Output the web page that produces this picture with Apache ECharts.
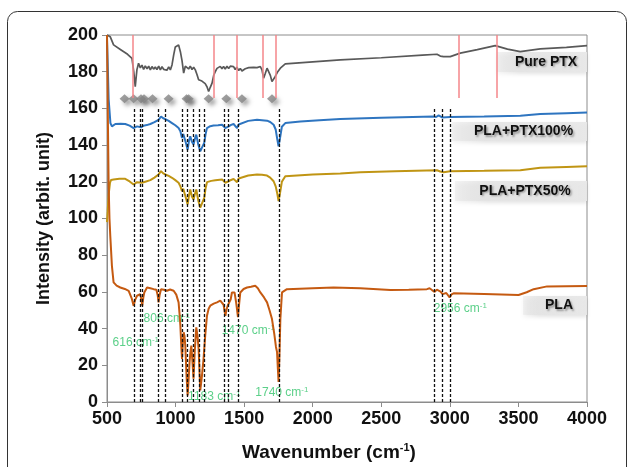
<!DOCTYPE html>
<html>
<head>
<meta charset="utf-8">
<script src="https://cdn.jsdelivr.net/npm/echarts@6/dist/echarts.min.js"></script>
<style>
  html, body { margin: 0; padding: 0; background: #fff; }
  #chart { width: 629px; height: 467px; }
</style>
</head>
<body>
<div id="chart"></div>
<script>
// spectra: [wavenumber, intensity]
const ptxData = [
  [500, 200], [524, 199], [548, 194.6], [600, 192], [650, 189.5], [682, 187.3], [695, 180], [706, 171.9],
  [718, 181], [730, 184.6], [743, 182.1], [755, 183.6], [767, 181.2], [779, 183.2], [792, 181.6], [804, 183],
  [816, 181], [828, 182.8], [840, 181.4], [852, 182.6], [864, 181.2], [877, 183], [889, 181], [901, 182.7],
  [913, 181.3], [925, 182.1], [937, 180.8], [950, 182.6], [962, 181], [974, 183.7], [986, 189], [998, 193.5],
  [1010, 192.5], [1022, 194.6], [1035, 190.9], [1047, 186], [1059, 179.2], [1071, 183], [1083, 183.7],
  [1095, 181.5], [1107, 183], [1120, 181.2], [1132, 182.4], [1144, 181], [1156, 178.5], [1168, 175.6],
  [1180, 176.2], [1192, 174.9], [1204, 174.6], [1216, 173.5], [1229, 171.8], [1241, 169.2], [1253, 171.5],
  [1266, 173.8], [1278, 178], [1290, 180.1], [1302, 181.8], [1314, 181], [1326, 182.9], [1338, 181.6],
  [1350, 182.8], [1362, 181.5], [1375, 183], [1387, 181.8], [1399, 183], [1411, 182], [1423, 182.8],
  [1435, 181.2], [1447, 182.5], [1460, 180.6], [1472, 181.8], [1484, 180.4], [1496, 180.1], [1508, 181.6],
  [1520, 180.8], [1533, 182.2], [1545, 181.9], [1570, 182.4], [1594, 182.2], [1618, 182.8], [1630, 181],
  [1642, 176.5], [1654, 179], [1667, 181.9], [1679, 181.5], [1691, 178], [1703, 174.6], [1715, 175.5],
  [1727, 177.4], [1745, 180], [1764, 181.9], [1800, 184.3], [2000, 185.4], [2201, 186.4], [2500, 187.6],
  [2800, 189], [2906, 189.5], [2930, 188.5], [2954, 188.2], [3003, 188.2], [3076, 190.1], [3200, 192],
  [3331, 194.2], [3420, 192.3], [3513, 190.9], [3659, 192.4], [3850, 193.3], [4000, 194.2]
];
const ptx100Data = [
  [500, 198], [505, 185], [512, 165], [525, 152], [536, 150.2], [561, 151.5], [600, 151.6], [633, 151.5],
  [665, 150.6], [694, 149.3], [719, 150.2], [748, 149.7], [767, 150.6], [790, 150.9], [816, 151.5],
  [846, 152.5], [876, 153.8], [894, 155.6], [910, 154.6], [925, 154.2], [950, 153.2], [974, 152],
  [998, 150.8], [1022, 149.3], [1035, 147.6], [1047, 143.9], [1056, 146.1], [1064, 145.7], [1076, 141],
  [1088, 137.5], [1098, 142.5], [1107, 144.8], [1119, 141.8], [1131, 140.3], [1141, 143.5], [1151, 145.7],
  [1165, 140.5], [1180, 136.6], [1195, 139], [1209, 141.2], [1219, 146], [1229, 149.3], [1253, 150.3],
  [1277, 150.7], [1310, 150.8], [1339, 151.1], [1350, 150.6], [1363, 149.3], [1375, 150.2], [1387, 150.2],
  [1405, 151], [1423, 151.5], [1436, 150.8], [1448, 149.3], [1460, 151.2], [1472, 152], [1530, 153.2],
  [1594, 153.8], [1630, 153.6], [1667, 153.3], [1690, 152.6], [1715, 151.1], [1730, 148.5], [1742, 143],
  [1751, 139.3], [1762, 144], [1775, 150], [1800, 152], [1910, 152.9], [2050, 153.6], [2201, 154.2],
  [2500, 154.9], [2882, 155.6], [2900, 155.3], [2918, 156.2], [2930, 155.5], [2943, 155.1], [3003, 155.3],
  [3250, 155.6], [3514, 156], [3659, 156.9], [3850, 157.4], [4000, 157.8]
];
const ptx50Data = [
  [500, 98], [505, 104], [512, 113], [522, 119.5], [530, 121], [548, 121.3], [590, 121.6], [633, 121.6],
  [665, 120.2], [694, 118.5], [719, 119.8], [755, 119.5], [785, 120.2], [816, 120.9], [846, 122.3],
  [876, 124], [894, 125.8], [910, 124.6], [925, 124], [950, 123.2], [974, 122.2], [998, 120.9],
  [1022, 119.5], [1035, 117.5], [1047, 114.9], [1056, 116.2], [1064, 115.8], [1076, 111], [1088, 107.7],
  [1098, 112.6], [1107, 115.8], [1119, 112], [1131, 110.4], [1141, 113.5], [1151, 115.8], [1165, 110],
  [1180, 105.9], [1195, 108.7], [1209, 111.3], [1219, 116.5], [1229, 119.8], [1260, 120.5], [1290, 120.9],
  [1339, 121.3], [1350, 120.8], [1363, 119.5], [1375, 120.4], [1387, 120.3], [1405, 121], [1423, 121.6],
  [1436, 121], [1448, 119.8], [1460, 121.8], [1472, 122.7], [1530, 123.4], [1594, 124], [1630, 123.8],
  [1667, 123.4], [1690, 122.3], [1715, 120.3], [1730, 117.5], [1742, 113.5], [1751, 109.5], [1762, 114],
  [1775, 120], [1800, 123], [2000, 124], [2201, 124.5], [2347, 125.2], [2600, 125.7], [2906, 126.3],
  [2930, 125.6], [2954, 125.2], [3003, 125.8], [3250, 126], [3514, 126.3], [3659, 127.6], [3850, 128.1],
  [4000, 128.5]
];
const plaData = [
  [500, 200], [503, 180], [507, 150], [512, 118], [518, 100], [524, 90.5], [536, 74], [548, 65.2],
  [570, 63.4], [597, 62.4], [630, 61.6], [658, 60.6], [680, 56.5], [694, 52.5], [706, 55.8], [719, 57.9],
  [743, 58.8], [750, 56], [757, 52.5], [765, 57], [772, 59.7], [792, 62.4], [816, 62], [840, 61.5],
  [860, 61.2], [870, 58], [876, 54.3], [884, 58.5], [894, 61.5], [915, 61.2], [937, 60.6], [960, 61.3],
  [986, 60.6], [1005, 58.5], [1022, 54.3], [1029, 48], [1035, 41.6], [1042, 30], [1047, 23.5], [1053, 32],
  [1059, 38], [1065, 36], [1071, 30.7], [1080, 14], [1088, 3.6], [1095, 12], [1102, 21.7], [1108, 27],
  [1115, 30.7], [1123, 22], [1131, 12.7], [1140, 28], [1151, 40.7], [1160, 36], [1168, 28.9], [1174, 18],
  [1180, 6.3], [1192, 14], [1204, 23.5], [1216, 36], [1229, 47], [1241, 50.8], [1253, 52.5], [1278, 53.6],
  [1302, 54.3], [1326, 55.2], [1339, 56.1], [1350, 53], [1363, 47], [1372, 50.5], [1380, 52.5],
  [1387, 52.8], [1394, 51.6], [1402, 56], [1411, 59.7], [1430, 59.7], [1442, 54], [1455, 46.2],
  [1463, 53], [1472, 59.7], [1496, 61.6], [1521, 62.4], [1550, 62.8], [1581, 63.3], [1600, 62],
  [1618, 59.7], [1645, 57], [1667, 54.3], [1685, 50], [1703, 45.2], [1720, 37], [1732, 30], [1740, 27.2],
  [1746, 18], [1751, 10.9], [1757, 24], [1764, 45], [1776, 59.7], [1812, 61.5], [2000, 62], [2152, 62.4],
  [2347, 62], [2566, 61], [2700, 61.2], [2833, 61.5], [2852, 62], [2870, 61], [2889, 60], [2905, 61.2],
  [2918, 61.5], [2932, 60.2], [2947, 58.8], [2960, 59.5], [2974, 59.4], [2987, 58.5], [2998, 57],
  [3012, 58.6], [3027, 59.2], [3250, 58.8], [3501, 58.3], [3560, 59.8], [3611, 61.5], [3709, 63],
  [3850, 63.1], [4000, 63.2]
];

const xTicks = { min: 500, max: 4000, interval: 500 };
const yTicks = { min: 0, max: 200, interval: 20 };

// dashed black marker lines, red PTX marker lines, grey diamonds
const dashedPeaks = [697, 741, 757, 876, 925, 1047, 1088, 1131, 1175, 1212, 1358, 1387, 1455, 1754, 2889, 2947, 3001];
const dashedTop = 160.5;
const redPeaks = [690, 1275, 1443, 1637, 1732, 3067, 3339];
const redBottom = 165.6;
const diamondX = [628, 694, 748, 770, 832, 949, 1080, 1095, 1241, 1370, 1484, 1703];
const diamondY = 165.3;

// green wavenumber notes
const noteText = ['616', '806', '1183', '1470', '1740', '2956'];
const noteX = [710, 936, 1282, 1530, 1775, 3076];
const noteY = [32.2, 45.2, 2.9, 38.7, 5.0, 50.7];

const seriesNames = ['Pure PTX', 'PLA+PTX100%', 'PLA+PTX50%', 'PLA'];
const seriesColors = ['#595959', '#2e75c0', '#c09514', '#c55a11'];

const chart = echarts.init(document.getElementById('chart'));

function vLines(xs, y0, y1) {
  return xs.map(x => [{ coord: [x, y0] }, { coord: [x, y1] }]);
}

// label boxes at the right side (pixel layout)
const boxes = [
  { text: seriesNames[0], x: 497, y: 52, w: 90, h: 20 },
  { text: seriesNames[1], x: 452, y: 122, w: 135, h: 19 },
  { text: seriesNames[2], x: 455, y: 181, w: 132, h: 20 },
  { text: seriesNames[3], x: 523, y: 296, w: 64, h: 19 }
];
const boxGraphics = boxes.map(b => ({
  type: 'group',
  children: [
    {
      type: 'rect',
      shape: { x: b.x, y: b.y, width: b.w, height: b.h },
      style: {
        fill: new echarts.graphic.LinearGradient(0, 0, 1, 0, [
          { offset: 0, color: 'rgba(225,225,225,0.35)' },
          { offset: 0.25, color: 'rgba(228,228,228,0.9)' },
          { offset: 1, color: 'rgba(232,232,232,0.95)' }
        ]),
        shadowBlur: 4, shadowColor: 'rgba(0,0,0,0.12)', shadowOffsetY: 2
      }
    },
    {
      type: 'text',
      style: {
        text: b.text, x: b.x + b.w / 2 + 4, y: b.y + b.h / 2,
        align: 'center', verticalAlign: 'middle',
        font: 'bold 14px "Liberation Sans", Arial, sans-serif', fill: '#111',
        textShadowBlur: 2, textShadowColor: 'rgba(0,0,0,0.35)', textShadowOffsetX: 1.5, textShadowOffsetY: 1.5
      }
    }
  ]
}));

const option = {
  animation: false,
  grid: { left: 107, right: 42, top: 35, bottom: 64, show: true, borderColor: '#8c8c8c', borderWidth: 1 },
  xAxis: {
    type: 'value', min: xTicks.min, max: xTicks.max, interval: xTicks.interval,
    name: 'Wavenumber (cm{sup|-1})', nameLocation: 'middle', nameGap: 40,
    nameTextStyle: {
      fontFamily: 'Liberation Sans', fontSize: 19, fontWeight: 'bold', color: '#111', padding: [0, 36, 0, 0],
      rich: { sup: { fontFamily: 'Liberation Sans', fontSize: 11, fontWeight: 'bold', color: '#111', verticalAlign: 'top', padding: [0, 0, 10, 0] } }
    },
    axisLine: { lineStyle: { color: '#8c8c8c' } },
    axisTick: { show: true, length: 5, lineStyle: { color: '#8c8c8c' } },
    axisLabel: { fontFamily: 'Liberation Sans', fontSize: 18, fontWeight: 'bold', color: '#111', margin: 8, formatter: v => String(v) },
    splitLine: { show: false }
  },
  yAxis: {
    type: 'value', min: yTicks.min, max: yTicks.max, interval: yTicks.interval,
    name: 'Intensity (arbit. unit)', nameLocation: 'middle', nameGap: 54,
    nameTextStyle: { fontFamily: 'Liberation Sans', fontSize: 18, fontWeight: 'bold', color: '#111' },
    axisLine: { show: true, lineStyle: { color: '#8c8c8c' } },
    axisTick: { show: true, length: 5, lineStyle: { color: '#8c8c8c' } },
    axisLabel: { fontFamily: 'Liberation Sans', fontSize: 18, fontWeight: 'bold', color: '#111', margin: 9 },
    splitLine: { show: false }
  },
  graphic: [
    {
      type: 'rect', silent: true,
      shape: { x: 7.5, y: 11.5, width: 619, height: 480, r: 10 },
      style: { fill: 'none', stroke: '#333', lineWidth: 1 }
    }
  ].concat(boxGraphics),
  series: [
    {
      name: 'markers', type: 'line', data: [], silent: true,
      markLine: {
        symbol: 'none', silent: true, label: { show: false },
        lineStyle: { color: '#111', type: [3, 2], width: 1.3 },
        data: vLines(dashedPeaks, 0, dashedTop)
      }
    },
    {
      name: 'red', type: 'line', data: [], silent: true,
      markLine: {
        symbol: 'none', silent: true, label: { show: false },
        lineStyle: { color: '#f4868a', type: 'solid', width: 1.5 },
        data: vLines(redPeaks, redBottom, 200)
      }
    },
    {
      name: 'diamonds', type: 'scatter', silent: true, symbol: 'diamond', symbolSize: [10, 9],
      itemStyle: { color: '#858585', shadowBlur: 4, shadowColor: 'rgba(0,0,0,0.45)', shadowOffsetX: 3, shadowOffsetY: 3 },
      data: diamondX.map(x => [x, diamondY])
    },
    { name: seriesNames[0], type: 'line', data: ptxData, symbol: 'none', color: seriesColors[0], lineStyle: { width: 1.7 } },
    { name: seriesNames[1], type: 'line', data: ptx100Data, symbol: 'none', color: seriesColors[1], lineStyle: { width: 2 } },
    { name: seriesNames[2], type: 'line', data: ptx50Data, symbol: 'none', color: seriesColors[2], lineStyle: { width: 2 } },
    { name: seriesNames[3], type: 'line', data: plaData, symbol: 'none', color: seriesColors[3], lineStyle: { width: 2 } },
    {
      name: 'notes', type: 'scatter', silent: true, symbolSize: 0,
      data: noteText.map((t, i) => ({ value: [noteX[i], noteY[i]], name: t })),
      label: {
        show: true, position: 'inside',
        formatter: p => p.name + ' cm{sup|-1}',
        fontFamily: 'Liberation Sans', fontSize: 12, color: '#33c46c',
        rich: { sup: { fontFamily: 'Liberation Sans', fontSize: 8, color: '#33c46c', verticalAlign: 'top', padding: [0, 0, 6, 0] } }
      }
    }
  ]
};

chart.setOption(option);
</script>
</body>
</html>
